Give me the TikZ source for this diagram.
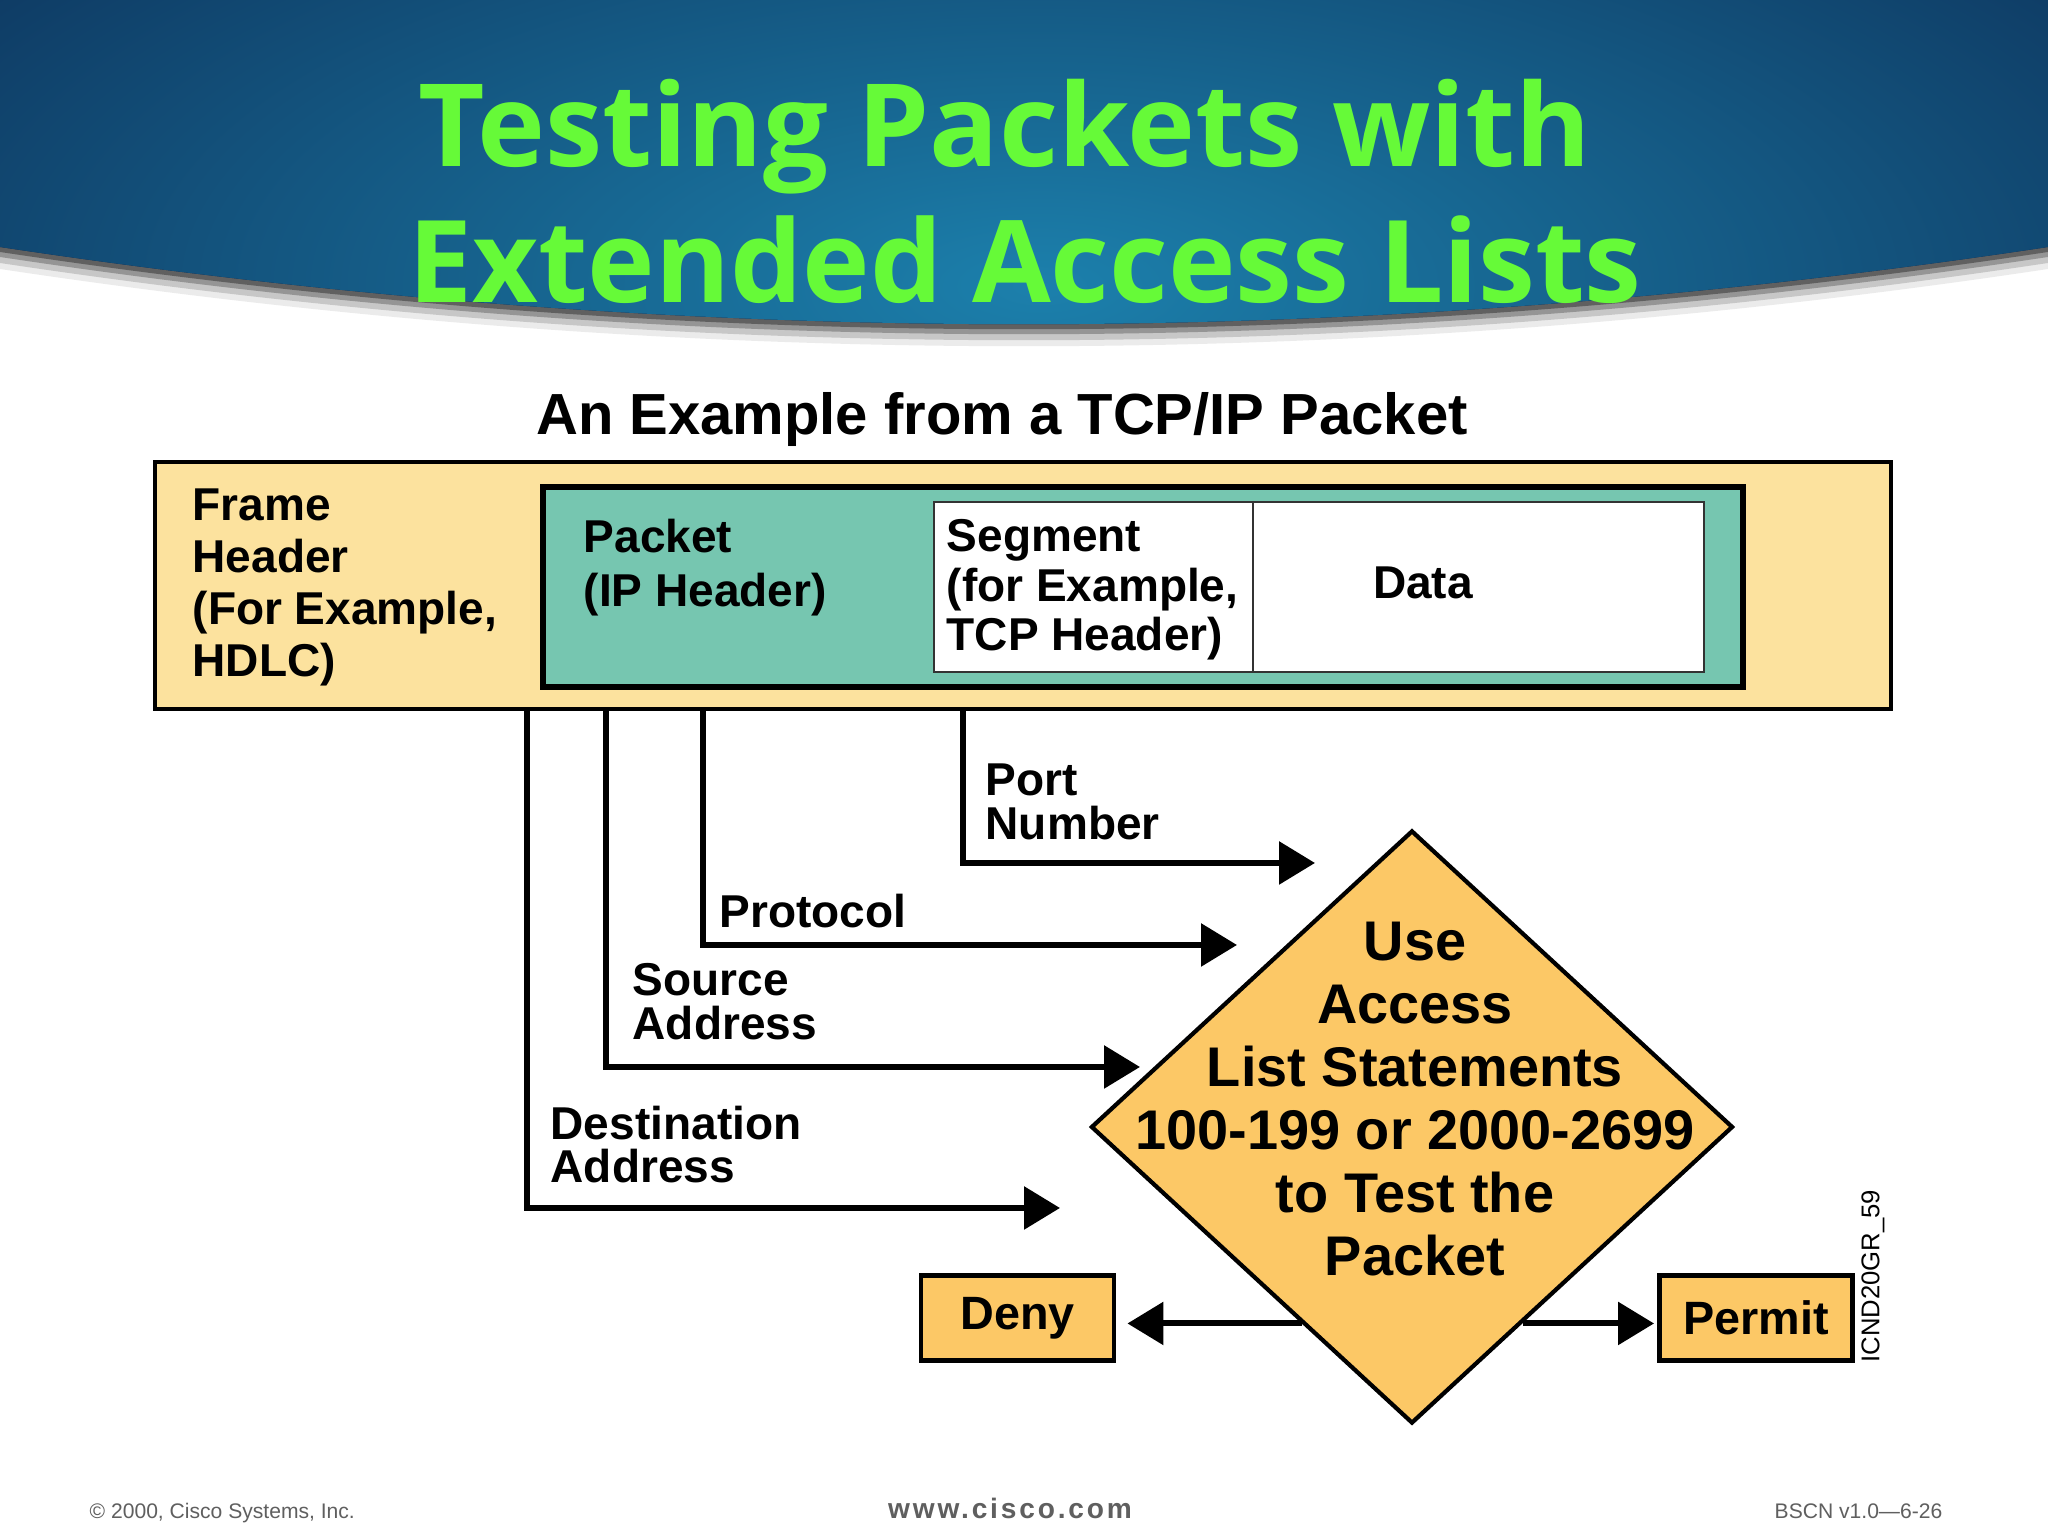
\documentclass[tikz,border=0pt]{standalone}
\usepackage{fontspec}
\setmainfont{Liberation Sans}
\newfontfamily\titlefont{Open Sans}
\usetikzlibrary{arrows.meta,shapes.geometric}
\usepackage{xcolor}

\definecolor{navy}{RGB}{10,36,76}
\definecolor{denim}{RGB}{28,128,172}
\definecolor{titlegreen}{RGB}{102,250,56}
\definecolor{framefill}{RGB}{252,226,158}
\definecolor{pktfill}{RGB}{118,198,176}
\definecolor{decfill}{RGB}{252,200,102}
\definecolor{footgray}{RGB}{95,95,95}

\tikzset{
  hdrbox/.style={draw=black,rectangle,inner sep=0pt},
  flow/.style={line width=1.7pt,->},
  lbl/.style={anchor=north west,align=left,inner sep=0pt,
    font=\bfseries\fontsize{13.1}{12.5}\selectfont},
  outcome/.style={draw,line width=1.4pt,fill=decfill,inner sep=0pt,
    minimum width=1.93cm,minimum height=0.85cm,
    font=\bfseries\fontsize{13.3}{15}\selectfont},
  foot/.style={anchor=base,inner sep=0pt,text=footgray,
    font=\fontsize{6}{7}\selectfont}
}

\begin{document}
\begin{tikzpicture}[>={Triangle[length=3.6mm,width=4.2mm]}]
\fill[white] (0,0) rectangle (20.48,15.36);
\useasboundingbox (0,0) rectangle (20.48,15.36);

% banner
\foreach \d/\o in {0.22/0.08,0.16/0.15,0.10/0.25,0.05/0.35}
  \fill[black,opacity=\o] (0,12.89-\d) .. controls (6.83,11.86-\d) and (13.65,11.86-\d) .. (20.48,12.89-\d)
    -- (20.48,14) -- (0,14) -- cycle;
\fill[navy] (0,15.36) -- (0,12.89) .. controls (6.83,11.86) and (13.65,11.86) .. (20.48,12.89)
  -- (20.48,15.36) -- cycle;
\begin{scope}
  \clip (0,15.36) -- (0,12.89) .. controls (6.83,11.86) and (13.65,11.86) .. (20.48,12.89)
    -- (20.48,15.36) -- cycle;
  \shade[inner color=denim,outer color=navy] (10.4,12.5) ellipse (17 and 7);
\end{scope}

\node[anchor=base,inner sep=0pt,text=titlegreen,font=\titlefont\bfseries\fontsize{32.7}{36}\selectfont]
  (title1) at (10.05,13.69) {Testing Packets with};
\node[anchor=base,inner sep=0pt,text=titlegreen,font=\titlefont\bfseries\fontsize{32.5}{36}\selectfont]
  (title2) at (10.25,12.33) {Extended Access Lists};

\node[anchor=base,inner sep=0pt,font=\bfseries\fontsize{16.5}{18}\selectfont]
  (sub) at (10.02,11.01) {An Example from a TCP/IP Packet};

% nested headers
\node[hdrbox,fill=framefill,line width=1.1pt,minimum width=17.36cm,minimum height=2.47cm]
  (frame) at (10.23,9.505) {};
\node[hdrbox,fill=pktfill,line width=1.7pt,minimum width=12cm,minimum height=2cm]
  (pkt) at (11.43,9.49) {};
\node[hdrbox,fill=white,draw=black!80,line width=0.6pt,minimum width=7.7cm,minimum height=1.7cm]
  (seg) at (13.19,9.49) {};
\draw[black!80,line width=0.6pt] ([xshift=3.2cm]seg.north west) -- ([xshift=3.2cm]seg.south west);

\node[lbl,font=\bfseries\fontsize{13.1}{14.8}\selectfont] (frametxt) at (1.92,10.48)
  {Frame\\Header\\(For Example,\\HDLC)};
\node[lbl,font=\bfseries\fontsize{13.1}{15.6}\selectfont] (pkttxt) at (5.83,10.18)
  {Packet\\(IP Header)};
\node[lbl,font=\bfseries\fontsize{13.1}{14}\selectfont] (segtxt) at (9.46,10.17)
  {Segment\\(for Example,\\TCP Header)};
\node[font=\bfseries\fontsize{13.1}{15}\selectfont] (data) at (14.23,9.53) {Data};

% fields taken from the headers
\coordinate (dsttop) at (5.27,8.27);
\coordinate (srctop) at (6.06,8.27);
\coordinate (prototop) at (7.03,8.27);
\coordinate (porttop) at (9.63,8.27);
\coordinate (dstend) at (10.60,3.28);
\coordinate (srcend) at (11.40,4.69);
\coordinate (protoend) at (12.37,5.91);
\coordinate (portend) at (13.15,6.73);

\draw[flow] (dsttop) |- (dstend);
\draw[flow] (srctop) |- (srcend);
\draw[flow] (prototop) |- (protoend);
\draw[flow] (porttop) |- (portend);

\node[lbl] (portlbl) at (9.85,7.73) {Port\\Number};
\node[lbl] (protolbl) at (7.19,6.43) {Protocol};
\node[lbl] (srclbl) at (6.32,5.73) {Source\\Address};
\node[lbl] (dstlbl) at (5.50,4.31) {Destination\\Address};

% decision
\node[diamond,draw,line width=1.2pt,fill=decfill,inner sep=0pt,
  minimum width=6.42cm,minimum height=5.93cm] (acl) at (14.12,4.09) {};
\node[align=center,inner sep=0pt,font=\bfseries\fontsize{15.9}{17.9}\selectfont]
  (acltxt) at (14.15,4.37) {Use\\Access\\List Statements\\100-199 or 2000-2699\\to Test the\\Packet};

\node[outcome] (deny) at (10.175,2.18) {Deny};
\node[outcome] (permit) at (17.56,2.18) {Permit};

\path (acl.west) -- (acl.south) coordinate[pos=0.658] (dl);
\path (acl.east) -- (acl.south) coordinate[pos=0.658] (dr);
\draw[flow,shorten >=0.11cm] (dl) -- (dl -| deny.east);
\draw[flow,shorten >=0.03cm] (dr) -- (dr -| permit.west);

\node[rotate=90,inner sep=0pt,font=\fontsize{7.3}{8}\selectfont] (figid) at (18.73,2.60) {ICND20GR\_59};

% footer
\node[foot,anchor=base west] (copy) at (0.89,0.175) {© 2000, Cisco Systems, Inc.};
\node[foot,font=\bfseries\fontsize{8}{9}\selectfont\addfontfeature{LetterSpace=10}] (web) at (10.10,0.175) {www.cisco.com};
\node[foot,anchor=base east] (course) at (19.43,0.175) {BSCN v1.0—6-26};
\end{tikzpicture}
\end{document}
